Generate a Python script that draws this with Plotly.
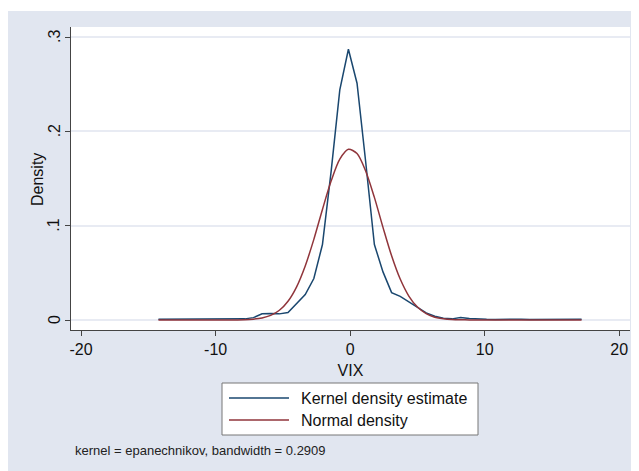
import plotly.graph_objects as go

# ---- data ----
vix_grid = [-14.25, -13.61, -12.97, -12.32, -11.68, -11.04, -10.40, -9.76, -9.12, -8.47,
            -7.83, -7.19, -6.55, -5.91, -5.26, -4.62, -3.98, -3.34, -2.70, -2.06,
            -1.41, -0.77, -0.13, 0.51, 1.15, 1.80, 2.44, 3.08, 3.72, 4.36,
            5.00, 5.65, 6.29, 6.93, 7.57, 8.21, 8.86, 9.50, 10.14, 10.78,
            11.42, 12.06, 12.71, 13.35, 13.99, 14.63, 15.27, 15.91, 16.56, 17.20]

kernel_density = [0.0008, 0.0008, 0.0009, 0.0007, 0.0006, 0.0007, 0.0011, 0.0006, 0.0005, 0.0009,
                  0.0012, 0.0025, 0.0066, 0.0068, 0.0065, 0.0080, 0.0180, 0.0270, 0.0440, 0.0800,
                  0.1580, 0.2440, 0.2870, 0.2510, 0.1680, 0.0800, 0.0510, 0.0290, 0.0250, 0.0190,
                  0.0130, 0.0075, 0.0040, 0.0018, 0.0012, 0.0026, 0.0016, 0.0009, 0.0007, 0.0006,
                  0.0008, 0.0011, 0.0009, 0.0006, 0.0007, 0.0005, 0.0006, 0.0008, 0.0009, 0.0007]

normal_density = [0.0, 0.0, 0.0, 0.0, 0.0, 0.0, 0.0, 0.0, 0.0, 0.0001,
                  0.0003, 0.0009, 0.0022, 0.0049, 0.0103, 0.0199, 0.0352, 0.0573, 0.0855, 0.1172,
                  0.1475, 0.1705, 0.1810, 0.1765, 0.1580, 0.1300, 0.0982, 0.0681, 0.0434, 0.0254,
                  0.0137, 0.0067, 0.0030, 0.0013, 0.0005, 0.0002, 0.0001, 0.0, 0.0, 0.0,
                  0.0, 0.0, 0.0, 0.0, 0.0, 0.0, 0.0, 0.0, 0.0, 0.0]

x_ticks = [-20, -10, 0, 10, 20]
x_tick_labels = ["-20", "-10", "0", "10", "20"]
y_ticks = [0, 0.1, 0.2, 0.3]
y_tick_labels = ["0", ".1", ".2", ".3"]

series_names = ["Kernel density estimate", "Normal density"]
note_text = "kernel = epanechnikov, bandwidth = 0.2909"

BLUE = "#1a476f"
RED = "#90353b"
BG = "#e1e6f0"
FONT = "Liberation Sans, Arial, sans-serif"

fig = go.Figure()
fig.add_trace(go.Scatter(x=vix_grid, y=kernel_density, mode="lines", name=series_names[0],
                         line=dict(color=BLUE, width=1.5)))
fig.add_trace(go.Scatter(x=vix_grid, y=normal_density, mode="lines", name=series_names[1],
                         line=dict(color=RED, width=1.5, shape="spline", smoothing=0.8)))

OFF = 8  # page body margin
W, H = 639, 471
L, R, T, B = 63, 17, 19, 149
pw, ph = W - L - R, H - T - B

def px_x(p):  # page pixel -> paper fraction
    return (p - OFF - L) / pw

def px_y(p):
    return 1 - (p - OFF - T) / ph

shapes = [
    dict(type="rect", xref="paper", yref="paper", x0=px_x(0), x1=px_x(660),
         y0=px_y(11), y1=px_y(0), fillcolor="white", line=dict(width=0)),
    dict(type="rect", xref="paper", yref="paper", x0=px_x(222), x1=px_x(478),
         y0=px_y(435), y1=px_y(383), fillcolor="white", line=dict(color="#777777", width=1)),
    dict(type="line", xref="paper", yref="paper", x0=px_x(229), x1=px_x(289),
         y0=px_y(398), y1=px_y(398), line=dict(color=BLUE, width=1.5)),
    dict(type="line", xref="paper", yref="paper", x0=px_x(229), x1=px_x(289),
         y0=px_y(420), y1=px_y(420), line=dict(color=RED, width=1.5)),
]

annotations = [
    dict(text=series_names[0], xref="paper", yref="paper", x=px_x(299), y=px_y(398),
         xanchor="left", yanchor="middle", showarrow=False, font=dict(size=16, color="#111")),
    dict(text=series_names[1], xref="paper", yref="paper", x=px_x(299), y=px_y(420),
         xanchor="left", yanchor="middle", showarrow=False, font=dict(size=16, color="#111")),
    dict(text=note_text, xref="paper", yref="paper", x=px_x(73), y=px_y(450),
         xanchor="left", yanchor="middle", showarrow=False, font=dict(size=13, color="#222")),
    dict(text="Density", xref="paper", yref="paper", x=px_x(37), y=px_y(180),
         xanchor="center", yanchor="middle", textangle=-90, showarrow=False,
         font=dict(size=16, color="#111")),
]
# rotated y tick labels, positioned at the tick values on the y axis
for val, lab in zip(y_ticks, y_tick_labels):
    annotations.append(dict(text=lab, xref="paper", yref="y", x=px_x(54), y=val,
                            xanchor="center", yanchor="middle", textangle=-90,
                            showarrow=False, font=dict(size=16, color="#111")))

fig.update_layout(
    width=W, height=H,
    margin=dict(l=L, r=R, t=T, b=B, pad=0),
    paper_bgcolor=BG, plot_bgcolor="white",
    font=dict(family=FONT, size=16, color="#111"),
    showlegend=False,
    shapes=shapes, annotations=annotations,
    xaxis=dict(range=[-20.75, 20.8], tickvals=x_ticks, ticktext=x_tick_labels,
               ticks="outside", ticklen=5,
               tickcolor="#444", showline=True, linecolor="#444", linewidth=1,
               showgrid=False, zeroline=False,
               title=dict(text="VIX", standoff=7, font=dict(size=16))),
    yaxis=dict(range=[-0.0106, 0.3106], tickvals=y_ticks, showticklabels=False,
               ticks="outside", ticklen=5, tickcolor="#444",
               showline=True, linecolor="#444", linewidth=1,
               showgrid=True, gridcolor="#e8ebf3", gridwidth=1.5, zeroline=False),
)

fig.write_html("out.html")
